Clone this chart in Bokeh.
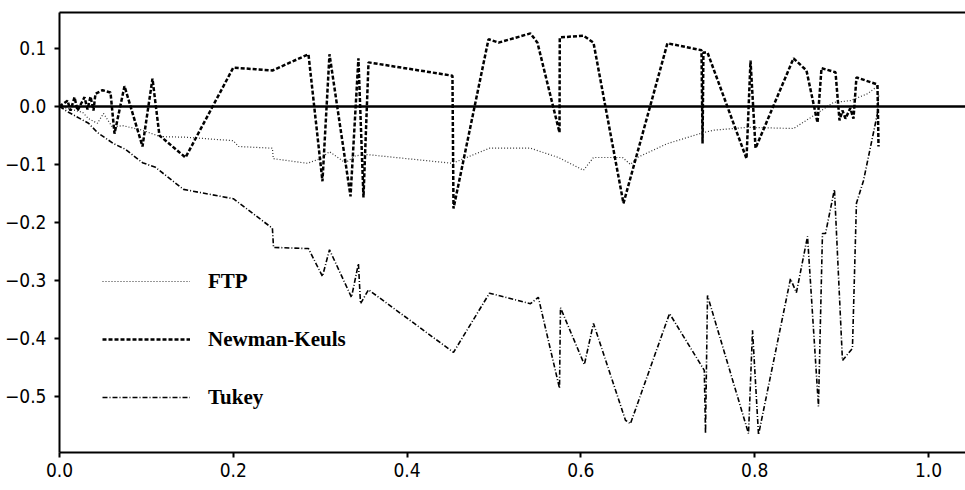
from bokeh.plotting import figure
from bokeh.models import Range1d, LinearAxis, FixedTicker, Span, Legend, LegendItem
from bokeh.embed import file_html
from bokeh.resources import INLINE

# ---- data ----
ftp_x = [0.0, 0.0265, 0.0334, 0.0437, 0.0506, 0.061, 0.0725, 0.0955, 0.116, 0.145,
         0.200, 0.206, 0.245, 0.246, 0.2854, 0.300, 0.3107, 0.329, 0.3406, 0.3544,
         0.4522, 0.4948, 0.542, 0.5742, 0.603, 0.6145, 0.648, 0.657, 0.665, 0.6996,
         0.741, 0.7526, 0.7917, 0.8447, 0.8677, 0.8907, 0.910, 0.930, 0.9413]
ftp_y = [0.0, -0.010, -0.021, -0.029, -0.012, -0.036, -0.033, -0.041, -0.052, -0.053,
         -0.059, -0.069, -0.072, -0.090, -0.098, -0.090, -0.078, -0.097, -0.085, -0.083,
         -0.098, -0.072, -0.072, -0.088, -0.110, -0.088, -0.088, -0.100, -0.088, -0.064,
         -0.045, -0.041, -0.036, -0.038, -0.016, 0.007, 0.010, 0.022, 0.035]

nk_x = [0.0, 0.0092, 0.0127, 0.0173, 0.0207, 0.0288, 0.0322, 0.0357, 0.0391, 0.0414,
        0.0495, 0.0587, 0.0633, 0.0748, 0.0955, 0.107, 0.115, 0.145, 0.200, 0.245,
        0.2865, 0.3026, 0.3107, 0.3349, 0.344, 0.3498, 0.3556, 0.4522, 0.4534, 0.4937,
        0.5052, 0.542, 0.550, 0.5754, 0.5757, 0.603, 0.6145, 0.649, 0.6996, 0.7388,
        0.740, 0.741, 0.7457, 0.7906, 0.7952, 0.801, 0.8447, 0.8596, 0.8723, 0.8769,
        0.893, 0.8976, 0.901, 0.9045, 0.910, 0.9137, 0.9171, 0.9413, 0.9425]
nk_y = [0.0, 0.010, -0.007, 0.016, -0.007, 0.016, -0.005, 0.017, -0.007, 0.022,
        0.028, 0.024, -0.047, 0.035, -0.069, 0.048, -0.050, -0.088, 0.067, 0.062,
        0.090, -0.129, 0.090, -0.155, 0.083, -0.157, 0.076, 0.053, -0.176, 0.116,
        0.110, 0.126, 0.110, -0.045, 0.119, 0.122, 0.110, -0.167, 0.109, 0.097,
        -0.064, 0.093, 0.093, -0.090, 0.079, -0.072, 0.083, 0.062, -0.028, 0.066,
        0.059, -0.024, -0.007, -0.021, -0.003, -0.021, 0.050, 0.038, -0.069]

tukey_x = [0.0, 0.0104, 0.0334, 0.0437, 0.0621, 0.076, 0.0955, 0.1105, 0.1427, 0.200,
           0.245, 0.2463, 0.2865, 0.3026, 0.3107, 0.336, 0.344, 0.3464, 0.3556, 0.4534,
           0.4948, 0.542, 0.551, 0.5754, 0.5765, 0.604, 0.6145, 0.6513, 0.657, 0.702,
           0.742, 0.7434, 0.7457, 0.7929, 0.7975, 0.8044, 0.8412, 0.848, 0.8608, 0.8734,
           0.878, 0.8815, 0.8918, 0.901, 0.9125, 0.9171, 0.9252, 0.9413, 0.9425]
tukey_y = [0.0, -0.010, -0.029, -0.045, -0.064, -0.074, -0.097, -0.105, -0.143, -0.159,
           -0.210, -0.243, -0.245, -0.293, -0.247, -0.329, -0.271, -0.340, -0.316, -0.424,
           -0.322, -0.340, -0.329, -0.486, -0.347, -0.445, -0.374, -0.541, -0.547, -0.357,
           -0.455, -0.564, -0.326, -0.564, -0.386, -0.566, -0.297, -0.321, -0.224, -0.517,
           -0.219, -0.219, -0.143, -0.438, -0.417, -0.167, -0.128, -0.012, 0.019]

series_names = ["FTP", "Newman-Keuls", "Tukey"]

x_ticks = [0.0, 0.2, 0.4, 0.6, 0.8, 1.0]
x_tick_labels = ["0.0", "0.2", "0.4", "0.6", "0.8", "1.0"]
y_ticks = [0.1, 0.0, -0.1, -0.2, -0.3, -0.4, -0.5]
y_tick_labels = ["0.1", "0.0", "\u22120.1", "\u22120.2", "\u22120.3", "\u22120.4", "\u22120.5"]

# ---- figure ----
TICK_FONT = "'Liberation Sans Narrow', 'DejaVu Sans Condensed', 'Roboto Condensed', 'Liberation Sans', sans-serif"
LEGEND_FONT = "'Liberation Serif', 'Times New Roman', 'DejaVu Serif', serif"

p = figure(width=965, height=490, output_backend="svg", toolbar_location=None,
           x_range=Range1d(0, 1.0426), y_range=Range1d(-0.5966, 0.162),
           x_axis_location=None, y_axis_location=None,
           min_border_left=59, min_border_right=0, min_border_top=12, min_border_bottom=38)
p.grid.visible = False
p.outline_line_color = None
p.background_fill_color = "white"
p.border_fill_color = "white"


def style_axis(ax, ticks, labels, standoff):
    ax.ticker = FixedTicker(ticks=ticks)
    ax.major_label_overrides = {t: l for t, l in zip(ticks, labels)}
    ax.axis_line_width = 2
    ax.axis_line_color = "black"
    ax.major_tick_line_width = 2
    ax.major_tick_line_color = "black"
    ax.major_tick_out = 5
    ax.major_tick_in = 0
    ax.minor_tick_line_color = None
    ax.major_label_text_font = TICK_FONT
    ax.major_label_text_font_size = "19px"
    ax.major_label_text_color = "black"
    ax.major_label_standoff = standoff


xaxis = LinearAxis()
style_axis(xaxis, x_ticks, x_tick_labels, 5)
p.add_layout(xaxis, "below")

yaxis = LinearAxis()
style_axis(yaxis, y_ticks, y_tick_labels, 8)
p.add_layout(yaxis, "left")

top = LinearAxis(ticker=FixedTicker(ticks=[]), axis_line_width=2, axis_line_color="black",
                 major_tick_out=0, major_tick_in=0, minor_tick_out=0, minor_tick_in=0,
                 major_label_standoff=0, major_label_text_font_size="0px")
p.add_layout(top, "above")

p.add_layout(Span(location=0, dimension="width", line_color="black", line_width=2.5))

r_ftp = p.line(ftp_x, ftp_y, line_color="#333333", line_width=1.2, line_dash="1 2")
r_nk = p.line(nk_x, nk_y, line_color="black", line_width=2.5, line_dash="4 2")
r_tk = p.line(tukey_x, tukey_y, line_color="black", line_width=1.6, line_dash="5 2 1 2")

legend = Legend(items=[LegendItem(label=series_names[0], renderers=[r_ftp]),
                       LegendItem(label=series_names[1], renderers=[r_nk]),
                       LegendItem(label=series_names[2], renderers=[r_tk])],
                location=(43, 42), orientation="vertical",
                glyph_width=88, glyph_height=26, label_height=26, spacing=32,
                label_standoff=18, padding=0, margin=0,
                border_line_color=None, background_fill_alpha=0,
                label_text_font=LEGEND_FONT, label_text_font_size="21px",
                label_text_font_style="bold",
                label_text_color="black")
p.add_layout(legend, "center")

open("out.html", "w").write(file_html(p, INLINE))
